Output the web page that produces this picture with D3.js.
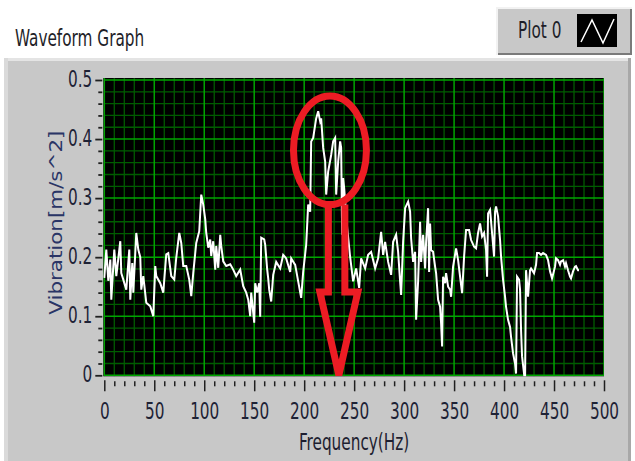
<!DOCTYPE html>
<html>
<head>
<meta charset="utf-8">
<script src="https://cdn.jsdelivr.net/npm/d3@7"></script>
<style>
  html, body { margin: 0; padding: 0; background: #ffffff; }
  svg { display: block; }
  text { font-family: "Liberation Sans Narrow", "DejaVu Sans Condensed", "Arial Narrow", sans-serif; }
</style>
</head>
<body>
<div id="chart"></div>
<script>
// Werte (Frequenz in Hz, Vibration in m/s^2)
const freqHz = [
  0, 2, 4, 6, 7, 10, 12, 16, 17, 19, 22, 25, 26, 28, 29, 32, 34, 36, 37, 39,
  42, 46, 49, 51, 52, 56, 59, 62, 64, 67, 70, 72, 75, 77, 79, 82, 85, 87, 89, 92,
  95, 97, 99, 101, 102, 104, 106, 107, 109, 111, 112, 114, 116, 117, 119, 122, 126, 129, 132, 136,
  139, 142, 144, 146, 147, 150, 151, 153, 155, 156, 157, 160, 161, 163, 164, 165, 167, 169, 172, 176,
  179, 182, 186, 187, 191, 194, 197, 199, 202, 204, 206, 207, 209, 211, 212, 214, 216, 217, 219, 221,
  222, 224, 227, 229, 231, 232, 234, 236, 237, 238, 239, 240, 243, 246, 249, 252, 255, 257, 261, 264,
  267, 271, 274, 277, 279, 281, 284, 287, 289, 292, 294, 296, 297, 299, 301, 304, 306, 307, 309, 311,
  312, 314, 316, 317, 319, 321, 322, 324, 325, 326, 327, 329, 331, 332, 334, 336, 337, 338, 339, 341,
  342, 344, 346, 347, 349, 352, 354, 356, 358, 360, 362, 365, 367, 370, 372, 374, 376, 378, 380, 382,
  383, 384, 386, 388, 390, 391, 392, 394, 396, 397, 399, 401, 402, 404, 406, 407, 409, 411, 412, 413,
  415, 416, 417, 418, 420, 421, 422, 424, 426, 427, 430, 432, 433, 435, 437, 439, 442, 444, 446, 448,
  451, 452, 454, 456, 457, 459, 461, 462, 464, 466, 467, 469, 471, 472, 474, 475
];
const vibration = [
  0.165, 0.213, 0.160, 0.196, 0.128, 0.213, 0.168, 0.227, 0.173, 0.162, 0.145, 0.213, 0.128, 0.190, 0.140, 0.241, 0.213, 0.200, 0.145, 0.168,
  0.123, 0.117, 0.100, 0.185, 0.168, 0.156, 0.140, 0.205, 0.207, 0.168, 0.162, 0.199, 0.241, 0.224, 0.185, 0.185, 0.162, 0.134, 0.173, 0.224,
  0.244, 0.306, 0.289, 0.264, 0.241, 0.216, 0.230, 0.202, 0.227, 0.179, 0.219, 0.182, 0.238, 0.219, 0.193, 0.185, 0.188, 0.179, 0.168, 0.179,
  0.151, 0.140, 0.128, 0.100, 0.140, 0.089, 0.156, 0.140, 0.156, 0.099, 0.233, 0.230, 0.221, 0.179, 0.164, 0.145, 0.125, 0.170, 0.192, 0.181,
  0.204, 0.198, 0.175, 0.198, 0.187, 0.159, 0.131, 0.175, 0.221, 0.289, 0.277, 0.396, 0.402, 0.424, 0.435, 0.447, 0.430, 0.435, 0.385, 0.362,
  0.306, 0.345, 0.373, 0.396, 0.402, 0.306, 0.362, 0.396, 0.385, 0.238, 0.334, 0.317, 0.250, 0.200, 0.159, 0.181, 0.148, 0.198, 0.181, 0.204,
  0.209, 0.181, 0.198, 0.243, 0.204, 0.226, 0.192, 0.170, 0.226, 0.238, 0.209, 0.159, 0.136, 0.226, 0.283, 0.294, 0.277, 0.232, 0.192, 0.209,
  0.094, 0.159, 0.260, 0.192, 0.238, 0.181, 0.226, 0.283, 0.175, 0.257, 0.212, 0.209, 0.184, 0.173, 0.128, 0.116, 0.088, 0.049, 0.167, 0.156,
  0.173, 0.150, 0.145, 0.133, 0.184, 0.215, 0.195, 0.167, 0.139, 0.201, 0.246, 0.246, 0.229, 0.218, 0.215, 0.241, 0.257, 0.235, 0.241, 0.212,
  0.167, 0.274, 0.280, 0.241, 0.201, 0.277, 0.286, 0.269, 0.229, 0.201, 0.162, 0.133, 0.116, 0.094, 0.082, 0.065, 0.037, 0.020, 0.003, 0.167,
  0.162, 0.145, 0.077, 0.032, 0.003, -0.013, 0.178, 0.133, 0.178, 0.181, 0.173, 0.187, 0.207, 0.207, 0.204, 0.207, 0.204, 0.195, 0.176, 0.164,
  0.184, 0.198, 0.195, 0.187, 0.193, 0.195, 0.184, 0.190, 0.178, 0.167, 0.164, 0.176, 0.184, 0.185, 0.178, 0.178
];

const xMajorTicks = [0, 50, 100, 150, 200, 250, 300, 350, 400, 450, 500];
const yMajorTicks = [0, 0.1, 0.2, 0.3, 0.4, 0.5];
const yTickLabels = ["0", "0.1", "0.2", "0.3", "0.4", "0.5"];

// rote Markierung (Kreis + Pfeil) in Datenkoordinaten
const markEllipse = { f: 225.8, v: 0.381, df: 36.5, dv: 0.092 };
const markArrow = [[224.2, 0.289], [224.2, 0.141], [215.7, 0.141], [234.7, 0.0], [253.7, 0.141], [240.7, 0.141], [240.7, 0.289]];

const width = 635, height = 461;
const plot = { left: 104.3, right: 604, top: 80, bottom: 375.3 };
const stretch = 1.4; // Schrift im Original vertikal gestreckt

const svg = d3.select("#chart").append("svg")
  .attr("width", width)
  .attr("height", height);

// 1) Grauer Rahmen des Graphen
svg.append("rect").attr("x", 4).attr("y", 58).attr("width", 627).attr("height", 410)
  .attr("fill", "#c8c8c8");
svg.append("rect").attr("x", 4).attr("y", 58).attr("width", 627).attr("height", 3).attr("fill", "#e4e4e4");
svg.append("rect").attr("x", 4).attr("y", 58).attr("width", 4).attr("height", 410).attr("fill", "#dadada");
svg.append("rect").attr("x", 628).attr("y", 58).attr("width", 3).attr("height", 410).attr("fill", "#a8a8a8");

// 2) Titel
svg.append("text")
  .attr("transform", `translate(15,46) scale(1,${stretch})`)
  .attr("font-size", 17)
  .attr("fill", "#1e1e28")
  .text("Waveform Graph");

// 3) Legende
const legend = svg.append("g").attr("transform", "translate(497,8)");
legend.append("rect").attr("width", 135).attr("height", 47).attr("fill", "#c8c8c8");
legend.append("path").attr("d", "M0,47V0H135").attr("fill", "none").attr("stroke", "#f2f2f2").attr("stroke-width", 2);
legend.append("path").attr("d", "M1,46H134V1").attr("fill", "none").attr("stroke", "#7a7a7a").attr("stroke-width", 2);
legend.append("text")
  .attr("transform", `translate(21,30) scale(1,${stretch})`)
  .attr("font-size", 17)
  .attr("fill", "#1e1e28")
  .text("Plot 0");
legend.append("rect").attr("x", 80).attr("y", 6).attr("width", 40).attr("height", 33).attr("fill", "#000");
legend.append("path")
  .attr("d", "M84,34L95,12L106,35L117,11")
  .attr("fill", "none").attr("stroke", "#fff").attr("stroke-width", 1.5);

// 4) Skalen
const x = d3.scaleLinear().domain([0, 500]).range([plot.left, plot.right]);
const y = d3.scaleLinear().domain([0, 0.5]).range([plot.bottom, plot.top]);

// 5) Plotfläche + Gitter
svg.append("rect")
  .attr("x", plot.left - 1).attr("y", plot.top - 2)
  .attr("width", plot.right - plot.left + 1).attr("height", plot.bottom - plot.top + 3)
  .attr("fill", "#000");

svg.append("clipPath").attr("id", "clip")
  .append("rect")
  .attr("x", plot.left - 1).attr("y", plot.top - 2)
  .attr("width", plot.right - plot.left + 1).attr("height", plot.bottom - plot.top + 3);

const grid = svg.append("g").attr("clip-path", "url(#clip)");
const xMinor = d3.range(0, 501, 10).filter(d => d % 50 !== 0);
const yMinor = d3.range(0, 26).map(i => i * 0.02).filter((d, i) => i % 5 !== 0);

grid.selectAll(".vminor").data(xMinor).enter().append("line")
  .attr("x1", d => x(d)).attr("x2", d => x(d))
  .attr("y1", plot.top - 2).attr("y2", plot.bottom + 1)
  .attr("stroke", "#005c00").attr("stroke-width", 1.3);
grid.selectAll(".hminor").data(yMinor).enter().append("line")
  .attr("y1", d => y(d)).attr("y2", d => y(d))
  .attr("x1", plot.left).attr("x2", plot.right)
  .attr("stroke", "#005c00").attr("stroke-width", 1.3);
grid.selectAll(".vmajor").data(xMajorTicks).enter().append("line")
  .attr("x1", d => x(d)).attr("x2", d => x(d))
  .attr("y1", plot.top - 2).attr("y2", plot.bottom + 1)
  .attr("stroke", "#00a400").attr("stroke-width", 1.5);
grid.selectAll(".hmajor").data(yMajorTicks).enter().append("line")
  .attr("y1", d => y(d)).attr("y2", d => y(d))
  .attr("x1", plot.left).attr("x2", plot.right)
  .attr("stroke", "#00a400").attr("stroke-width", 1.5);

// 6) Messkurve
const data = freqHz.map((f, i) => ({ f, v: vibration[i] }));
const line = d3.line().x(d => x(d.f)).y(d => y(d.v));
svg.append("g").attr("clip-path", "url(#clip)")
  .append("path")
  .attr("d", line(data))
  .attr("fill", "none")
  .attr("stroke", "#ffffff")
  .attr("stroke-width", 2)
  .attr("stroke-linejoin", "miter");

// 7) Achsen
const tickColor = "#202020";
const labelColor = "#1e2235";

const xAxisG = svg.append("g").attr("transform", `translate(0,${plot.bottom + 5})`);
xAxisG.append("g")
  .call(d3.axisBottom(x).tickValues(xMinor).tickSize(6).tickFormat(""))
  .call(g => g.select(".domain").remove())
  .call(g => g.selectAll("line").attr("y1", 1).attr("stroke", tickColor).attr("stroke-width", 1.5));
xAxisG.append("g")
  .call(d3.axisBottom(x).tickValues(xMajorTicks).tickSize(11).tickFormat(d3.format("d")))
  .call(g => g.select(".domain").remove())
  .call(g => g.selectAll("line").attr("stroke", tickColor).attr("stroke-width", 1.5))
  .call(g => g.selectAll("text")
    .attr("y", null).attr("dy", null)
    .attr("transform", `translate(0,39) scale(1,${stretch})`)
    .attr("font-size", 17)
    .attr("fill", labelColor));

const yAxisG = svg.append("g").attr("transform", `translate(${plot.left - 2},0)`);
yAxisG.append("g")
  .call(d3.axisLeft(y).tickValues(yMinor).tickSize(4).tickFormat(""))
  .call(g => g.select(".domain").remove())
  .call(g => g.selectAll("line").attr("stroke", tickColor).attr("stroke-width", 1.8));
yAxisG.append("g")
  .call(d3.axisLeft(y).tickValues(yMajorTicks).tickSize(7).tickFormat((d, i) => yTickLabels[i]))
  .call(g => g.select(".domain").remove())
  .call(g => g.selectAll("line").attr("stroke", tickColor).attr("stroke-width", 1.8))
  .call(g => g.selectAll("text")
    .attr("x", null).attr("dy", null)
    .attr("transform", `translate(-10,6) scale(1,${stretch})`)
    .attr("font-size", 17)
    .attr("fill", labelColor));

// 8) Achsentitel
svg.append("text")
  .attr("transform", `translate(${x(250)},450) scale(1,${stretch})`)
  .attr("text-anchor", "middle")
  .attr("font-size", 17)
  .attr("fill", "#1e1e30")
  .text("Frequency(Hz)");

svg.append("text")
  .attr("transform", `translate(62,${(plot.top + plot.bottom) / 2 - 5}) rotate(-90) scale(${stretch},1)`)
  .attr("text-anchor", "middle")
  .attr("font-size", 17)
  .attr("fill", "#2a3566")
  .text("Vibration[m/s^2]");

// 9) Rote Markierung
const red = "#ec1c24";
svg.append("ellipse")
  .attr("cx", x(markEllipse.f)).attr("cy", y(markEllipse.v))
  .attr("rx", x(markEllipse.df) - x(0)).attr("ry", y(0) - y(markEllipse.dv))
  .attr("fill", "none").attr("stroke", red).attr("stroke-width", 7);
svg.append("path")
  .attr("d", d3.line().x(d => x(d[0])).y(d => y(d[1]))(markArrow))
  .attr("fill", "none").attr("stroke", red).attr("stroke-width", 7)
  .attr("stroke-linejoin", "miter");
</script>
</body>
</html>
